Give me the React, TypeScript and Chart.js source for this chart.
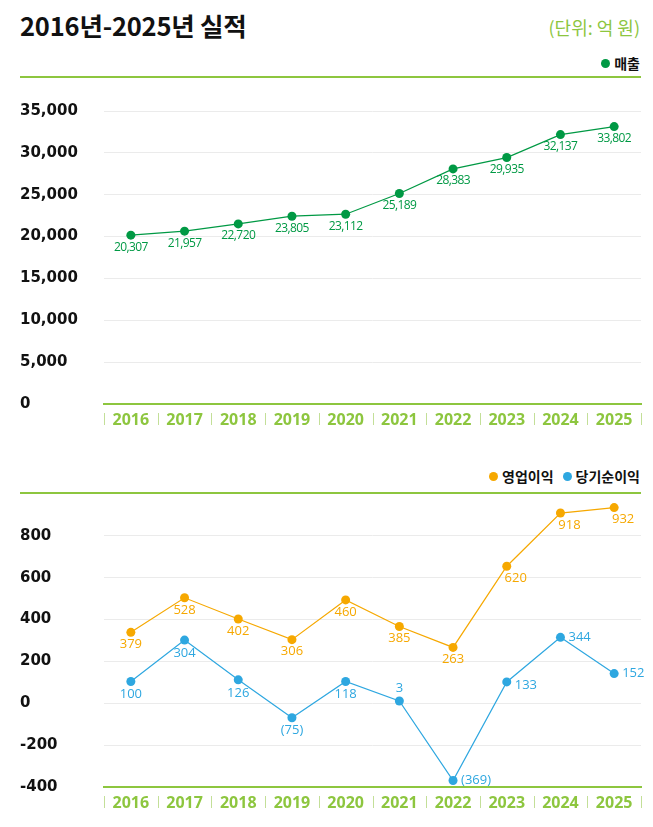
import React, { useEffect, useRef } from 'react';
import { Chart, registerables } from 'chart.js';

Chart.register(...registerables);

// ---------- data ----------
const years = ['2016', '2017', '2018', '2019', '2020', '2021', '2022', '2023', '2024', '2025'];

// 매출 (억 원) – plotted positions and printed labels
const salesValues = [20167, 20644, 21516, 22434, 22673, 25143, 28079, 29439, 32184, 33138];
const salesLabels = ['20,307', '21,957', '22,720', '23,805', '23,112', '25,189', '28,383', '29,935', '32,137', '33,802'];
const salesTicks = [0, 5000, 10000, 15000, 20000, 25000, 30000, 35000];

// 영업이익
const opValues = [339, 504, 403, 304, 494, 367, 267, 655, 909, 935];
const opLabels = ['379', '528', '402', '306', '460', '385', '263', '620', '918', '932'];

// 당기순이익
const netValues = [104, 302, 112, -69, 104, 11, -369, 102, 315, 142];
const netLabels = ['100', '304', '126', '(75)', '118', '3', '(369)', '133', '344', '152'];

const profitTicks = [-400, -200, 0, 200, 400, 600, 800];

// ---------- styles ----------
const LIME = '#8dc63f';
const LIME_LIGHT = '#c3df98';
const GREEN = '#009944';
const ORANGE = '#f6a800';
const BLUE = '#2ea7e0';
const GRID = '#ebebeb';

const opPlacement = ['below', 'below', 'below', 'below', 'below', 'below', 'below', 'belowRight', 'belowRight', 'belowRight'];
const netPlacement = ['below', 'below', 'below', 'below', 'below', 'above', 'right', 'rightLow', 'right', 'right'];
const salesPlacement = years.map(() => 'below');

const pointLabelPlugin = {
  id: 'pointLabelPlugin',
  afterDatasetsDraw(chart: any) {
    const ctx = chart.ctx;
    chart.data.datasets.forEach((ds: any, di: number) => {
      const cfg = ds.labelCfg;
      if (!cfg) return;
      const meta = chart.getDatasetMeta(di);
      ctx.save();
      ctx.font = cfg.font;
      ctx.fillStyle = cfg.color;
      ctx.textBaseline = 'middle';
      try { (ctx as any).letterSpacing = cfg.letterSpacing || '0px'; } catch (e) {}
      meta.data.forEach((pt: any, i: number) => {
        const place = cfg.placement[i];
        let x = pt.x;
        let y = pt.y;
        let align: CanvasTextAlign = 'center';
        if (place === 'below') y += cfg.below;
        else if (place === 'above') y -= cfg.above;
        else if (place === 'belowRight') { y += cfg.below; x += cfg.shift; }
        else if (place === 'right') { x += cfg.right; align = 'left'; }
        else if (place === 'rightLow') { x += cfg.right; y += 3; align = 'left'; }
        ctx.textAlign = align;
        ctx.fillText(cfg.texts[i], x, y);
      });
      ctx.restore();
    });
  },
};

const yearDividerPlugin = {
  id: 'yearDividerPlugin',
  afterDraw(chart: any) {
    const xs = chart.scales.x;
    const area = chart.chartArea;
    const n = chart.data.labels.length;
    const step = xs.getPixelForValue(1) - xs.getPixelForValue(0);
    const start = xs.getPixelForValue(0) - step / 2;
    const ctx = chart.ctx;
    ctx.save();
    ctx.strokeStyle = LIME_LIGHT;
    ctx.lineWidth = 1;
    for (let i = 0; i <= n; i++) {
      const x = Math.round(start + i * step) + 0.5;
      ctx.beginPath();
      ctx.moveTo(x, area.bottom + 9);
      ctx.lineTo(x, area.bottom + 21);
      ctx.stroke();
    }
    ctx.restore();
  },
};

function baseOptions(ticks: number[], min: number, max: number, padTop: number, xHeight: number) {
  return {
    responsive: false,
    animation: false as const,
    layout: { padding: { top: padTop, left: 20, right: 12, bottom: 0 } },
    plugins: { legend: { display: false }, tooltip: { enabled: false } },
    scales: {
      x: {
        type: 'category' as const,
        offset: true,
        grid: { display: false, drawTicks: false },
        border: { display: true, color: LIME, width: 2 },
        ticks: {
          color: LIME,
          padding: 7,
          font: { family: '"Open Sans"', size: 16, weight: 'bold' as const },
        },
        afterFit: (s: any) => { s.height = xHeight; },
      },
      y: {
        min,
        max,
        grid: { color: GRID, lineWidth: 1, drawTicks: false },
        border: { display: false },
        afterBuildTicks: (s: any) => { s.ticks = ticks.map((v) => ({ value: v })); },
        afterFit: (s: any) => { s.width = 84; },
        ticks: {
          color: '#111',
          crossAlign: 'far' as const,
          padding: 0,
          font: { family: '"DejaVu Sans"', size: 15, weight: 'bold' as const },
          callback: (v: any) => Number(v).toLocaleString('en-US'),
        },
      },
    },
  };
}

function lineDataset(label: string, values: number[], color: string, labelCfg: any) {
  return {
    label,
    data: values,
    borderColor: color,
    backgroundColor: color,
    borderWidth: 1.2,
    pointRadius: 4.5,
    pointBorderWidth: 0,
    pointBackgroundColor: color,
    tension: 0,
    clip: false as const,
    labelCfg,
  };
}

function SalesChart() {
  const ref = useRef<HTMLCanvasElement>(null);
  useEffect(() => {
    const chart = new Chart(ref.current as HTMLCanvasElement, {
      type: 'line',
      data: {
        labels: years,
        datasets: [
          lineDataset('매출', salesValues, GREEN, {
            texts: salesLabels,
            placement: salesPlacement,
            font: '12px "Open Sans"',
            letterSpacing: '-0.6px',
            color: GREEN,
            below: 12,
            above: 12,
            shift: 0,
            right: 8,
          }) as any,
        ],
      },
      options: baseOptions(salesTicks, 0, 35000, 111, 41) as any,
      plugins: [pointLabelPlugin, yearDividerPlugin],
    });
    return () => chart.destroy();
  }, []);
  return (
    <canvas
      ref={ref}
      width={653}
      height={445}
      style={{ position: 'absolute', left: 0, top: 0, width: 653, height: 445 }}
    />
  );
}

function ProfitChart() {
  const ref = useRef<HTMLCanvasElement>(null);
  useEffect(() => {
    const chart = new Chart(ref.current as HTMLCanvasElement, {
      type: 'line',
      data: {
        labels: years,
        datasets: [
          lineDataset('영업이익', opValues, ORANGE, {
            texts: opLabels,
            placement: opPlacement,
            font: '13px "Open Sans"',
            color: ORANGE,
            below: 12,
            above: 12,
            shift: 9,
            right: 8,
          }) as any,
          lineDataset('당기순이익', netValues, BLUE, {
            texts: netLabels,
            placement: netPlacement,
            font: '13px "Open Sans"',
            color: BLUE,
            below: 13,
            above: 13,
            shift: 0,
            right: 8,
          }) as any,
        ],
      },
      options: baseOptions(profitTicks, -400, 1000, 54, 40) as any,
      plugins: [pointLabelPlugin, yearDividerPlugin],
    });
    return () => chart.destroy();
  }, []);
  return (
    <canvas
      ref={ref}
      width={653}
      height={387}
      style={{ position: 'absolute', left: 0, top: 440, width: 653, height: 387 }}
    />
  );
}

const dot = (color: string) => (
  <span
    style={{
      display: 'inline-block',
      width: 9,
      height: 9,
      borderRadius: '50%',
      background: color,
      marginRight: 4,
    }}
  />
);

export default function App() {
  const font = '"Noto Sans CJK KR", "Noto Sans", sans-serif';
  return (
    <div
      style={{
        position: 'absolute',
        left: 0,
        top: 0,
        width: 653,
        height: 827,
        background: '#fff',
        fontFamily: font,
        overflow: 'hidden',
      }}
    >
      <div
        style={{
          position: 'absolute',
          left: 20,
          top: 8,
          fontSize: 25.5,
          fontWeight: 700,
          lineHeight: '34px',
          color: '#111',
          letterSpacing: '-0.2px',
          whiteSpace: 'nowrap',
        }}
      >
        2016년-2025년 실적
      </div>
      <div
        style={{
          position: 'absolute',
          right: 13,
          top: 16,
          fontSize: 18,
          lineHeight: '22px',
          color: LIME,
          whiteSpace: 'nowrap',
        }}
      >
        (단위: 억 원)
      </div>

      <div
        style={{
          position: 'absolute',
          right: 13,
          top: 53,
          height: 20,
          lineHeight: '20px',
          fontSize: 14,
          fontWeight: 700,
          color: '#111',
          display: 'flex',
          alignItems: 'center',
          whiteSpace: 'nowrap',
        }}
      >
        {dot(GREEN)}
        <span>매출</span>
      </div>
      <div style={{ position: 'absolute', left: 20, top: 76, width: 621, height: 2, background: LIME }} />

      <SalesChart />

      <div
        style={{
          position: 'absolute',
          right: 13,
          top: 466,
          height: 20,
          lineHeight: '20px',
          fontSize: 14,
          fontWeight: 700,
          color: '#111',
          display: 'flex',
          alignItems: 'center',
          whiteSpace: 'nowrap',
        }}
      >
        {dot(ORANGE)}
        <span style={{ marginRight: 9 }}>영업이익</span>
        {dot(BLUE)}
        <span>당기순이익</span>
      </div>

      <ProfitChart />

      <div style={{ position: 'absolute', left: 20, top: 492, width: 621, height: 2, background: LIME }} />
    </div>
  );
}
